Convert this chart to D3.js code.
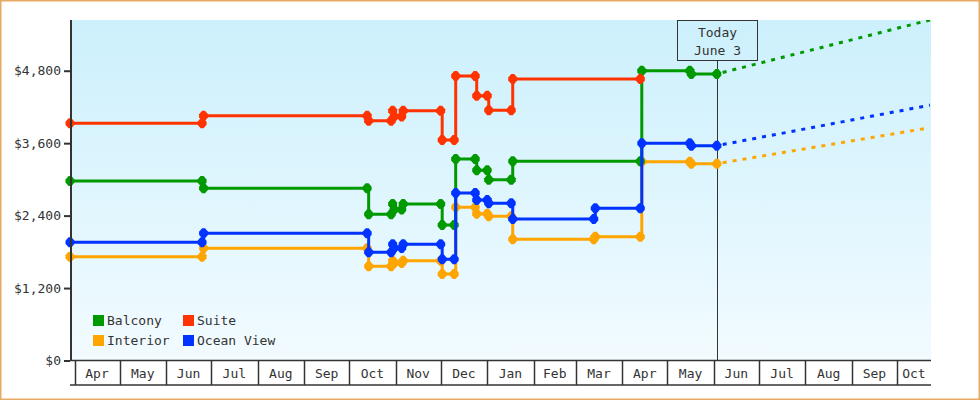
<!DOCTYPE html>
<html>
<head>
<meta charset="utf-8">
<script src="https://cdn.jsdelivr.net/npm/d3@7"></script>
<style>
  html, body { margin: 0; padding: 0; background: #fff; }
  svg { display: block; }
  text { font-family: "DejaVu Sans Mono", monospace; font-size: 13px; fill: #333; }
</style>
</head>
<body>
<svg id="chart" width="980" height="400"></svg>
<script>
// ---------- DATA ----------
const seriesNames = ["Balcony", "Suite", "Interior", "Ocean View"];
const seriesColors = ["#009900", "#ff3300", "#ffa500", "#0033ff"];

const balcony = [
  ["2014-03-29", 2973], ["2014-06-25", 2973], ["2014-06-26", 2852], ["2014-10-13", 2852],
  ["2014-10-14", 2422], ["2014-10-29", 2422], ["2014-10-30", 2592], ["2014-10-31", 2501],
  ["2014-11-05", 2501], ["2014-11-06", 2592], ["2014-12-01", 2592], ["2014-12-02", 2244],
  ["2014-12-10", 2244], ["2014-12-11", 3338], ["2014-12-24", 3338], ["2014-12-25", 3150],
  ["2015-01-01", 3150], ["2015-01-02", 2995], ["2015-01-17", 2995], ["2015-01-18", 3300],
  ["2015-04-13", 3300], ["2015-04-14", 4800], ["2015-05-16", 4800], ["2015-05-17", 4746],
  ["2015-06-03", 4746]
];
const suite = [
  ["2014-03-29", 3929], ["2014-06-25", 3929], ["2014-06-26", 4055], ["2014-10-13", 4055],
  ["2014-10-14", 3972], ["2014-10-29", 3972], ["2014-10-30", 4138], ["2014-10-31", 4042],
  ["2014-11-05", 4042], ["2014-11-06", 4138], ["2014-12-01", 4138], ["2014-12-02", 3652],
  ["2014-12-10", 3652], ["2014-12-11", 4712], ["2014-12-24", 4712], ["2014-12-25", 4386],
  ["2015-01-01", 4386], ["2015-01-02", 4144], ["2015-01-17", 4144], ["2015-01-18", 4663],
  ["2015-04-13", 4663]
];
const interior = [
  ["2014-03-29", 1719], ["2014-06-25", 1719], ["2014-06-26", 1858], ["2014-10-13", 1858],
  ["2014-10-14", 1560], ["2014-10-29", 1560], ["2014-10-30", 1653], ["2014-10-31", 1615],
  ["2014-11-05", 1615], ["2014-11-06", 1653], ["2014-12-01", 1653], ["2014-12-02", 1433],
  ["2014-12-10", 1433], ["2014-12-11", 2538], ["2014-12-24", 2538], ["2014-12-25", 2430],
  ["2015-01-01", 2430], ["2015-01-02", 2390], ["2015-01-17", 2390], ["2015-01-18", 2008],
  ["2015-03-13", 2008], ["2015-03-14", 2051], ["2015-04-13", 2051], ["2015-04-14", 3293],
  ["2015-05-16", 3293], ["2015-05-17", 3260], ["2015-06-03", 3260]
];
const oceanView = [
  ["2014-03-29", 1958], ["2014-06-25", 1958], ["2014-06-26", 2107], ["2014-10-13", 2107],
  ["2014-10-14", 1792], ["2014-10-29", 1792], ["2014-10-30", 1925], ["2014-10-31", 1863],
  ["2014-11-05", 1863], ["2014-11-06", 1925], ["2014-12-01", 1925], ["2014-12-02", 1676],
  ["2014-12-10", 1676], ["2014-12-11", 2775], ["2014-12-24", 2775], ["2014-12-25", 2659],
  ["2015-01-01", 2659], ["2015-01-02", 2604], ["2015-01-17", 2604], ["2015-01-18", 2344],
  ["2015-03-13", 2344], ["2015-03-14", 2521], ["2015-04-13", 2521], ["2015-04-14", 3598],
  ["2015-05-16", 3598], ["2015-05-17", 3558], ["2015-06-03", 3558]
];
// forecast (dashed) : from today to end of axis
const forecastBalcony  = [["2015-06-03", 4746], ["2015-10-23", 5640]];
const forecastInterior = [["2015-06-03", 3260], ["2015-10-23", 3856]];
const forecastOcean    = [["2015-06-03", 3558], ["2015-10-23", 4230]];

const todayDate = "2015-06-03";
const todayLabel = ["Today", "June 3"];
const yTicks = [0, 1200, 2400, 3600, 4800];
const monthLabels = ["Apr","May","Jun","Jul","Aug","Sep","Oct","Nov","Dec","Jan","Feb","Mar",
                     "Apr","May","Jun","Jul","Aug","Sep","Oct"];
const xDomain = ["2014-03-29", "2015-10-23T17:00:00Z"];
const yDomain = [0, 5640];

// ---------- LAYOUT ----------
const W = 980, H = 400;
const plot = { left: 70, right: 931, top: 20, bottom: 360.5 };
const axisBottom = 385;

const parse = s => new Date(s.length === 10 ? s + "T00:00:00Z" : s);
const x = d3.scaleUtc().domain(xDomain.map(parse)).range([plot.left, plot.right]);
const y = d3.scaleLinear().domain(yDomain).range([plot.bottom, plot.top]);

const svg = d3.select("#chart");
const defs = svg.append("defs");
const grad = defs.append("linearGradient").attr("id", "bg").attr("x1", 0).attr("y1", 0).attr("x2", 0).attr("y2", 1);
grad.append("stop").attr("offset", "0%").attr("stop-color", "#ccf0fc");
grad.append("stop").attr("offset", "100%").attr("stop-color", "#f2fbff");
defs.append("clipPath").attr("id", "clip").append("rect")
  .attr("x", plot.left - 6).attr("y", plot.top).attr("width", plot.right - plot.left + 6).attr("height", plot.bottom - plot.top + 6);

svg.append("rect").attr("x", 0).attr("y", 0).attr("width", W).attr("height", H).attr("fill", "#fff");
svg.append("rect").attr("x", 0.75).attr("y", 0.75).attr("width", W - 1.5).attr("height", H - 1.5)
  .attr("fill", "none").attr("stroke", "#e8a962").attr("stroke-width", 1.5);

// plot background
svg.append("rect").attr("x", plot.left + 1).attr("y", plot.top)
  .attr("width", plot.right - plot.left - 1).attr("height", plot.bottom - plot.top)
  .attr("fill", "url(#bg)");

// today line + box
const tx = Math.round(x(parse(todayDate))) + 0.5;
svg.append("line").attr("x1", tx).attr("x2", tx).attr("y1", 60.5).attr("y2", plot.bottom)
  .attr("stroke", "#333").attr("stroke-width", 1);
svg.append("rect").attr("x", tx - 40).attr("y", 20.5).attr("width", 80).attr("height", 40)
  .attr("fill", "none").attr("stroke", "#333").attr("stroke-width", 1);
svg.append("text").attr("x", tx).attr("y", 37).attr("text-anchor", "middle").text(todayLabel[0]);
svg.append("text").attr("x", tx).attr("y", 55).attr("text-anchor", "middle").text(todayLabel[1]);

// ---------- SERIES ----------
const g = svg.append("g").attr("clip-path", "url(#clip)");
const line = d3.line().x(d => x(parse(d[0]))).y(d => y(d[1])).curve(d3.curveStepAfter);
const dline = d3.line().x(d => x(parse(d[0]))).y(d => y(d[1]));
const marker = "M-1.5,-5L1.5,-5L4.5,-1.5L4.5,1.5L1.5,5L-1.5,5L-4.5,1.5L-4.5,-1.5Z";

const allSeries = [balcony, suite, interior, oceanView];
const forecasts = [forecastBalcony, null, forecastInterior, forecastOcean];
// draw order mimics overlaps in the original
[2, 0, 1, 3].forEach(i => {
  const data = allSeries[i], col = seriesColors[i];
  if (forecasts[i]) {
    g.append("path").datum(forecasts[i]).attr("d", dline).attr("fill", "none")
      .attr("stroke", col).attr("stroke-width", 3).attr("stroke-dasharray", "4,6")
      .attr("stroke-dashoffset", -6);
  }
  g.append("path").datum(data).attr("d", line).attr("fill", "none")
    .attr("stroke", col).attr("stroke-width", 3).attr("stroke-linejoin", "miter");
  g.selectAll(null).data(data).enter().append("path")
    .attr("d", marker)
    .attr("transform", d => `translate(${x(parse(d[0]))},${y(d[1])})`)
    .attr("fill", col);
});

// ---------- Y AXIS ----------
const yAxis = d3.axisLeft(y).tickValues(yTicks).tickSize(6).tickPadding(3)
  .tickFormat(d => "$" + d3.format(",")(d));
const ya = svg.append("g").attr("transform", `translate(${plot.left},0)`).call(yAxis);
ya.select(".domain").remove();
ya.selectAll(".tick line").attr("stroke", "#333").attr("stroke-width", 2);
ya.selectAll(".tick text").attr("font-family", "DejaVu Sans Mono, monospace").attr("font-size", 13).attr("fill", "#333");
svg.append("line").attr("x1", plot.left + 1).attr("x2", plot.left + 1).attr("y1", plot.top).attr("y2", plot.bottom)
  .attr("stroke", "#333").attr("stroke-width", 2);

// ---------- X AXIS (month boxes) ----------
const d0 = x.domain()[0], d1 = x.domain()[1];
const months = d3.utcMonth.range(d3.utcMonth.ceil(d0), d1);
const xa = svg.append("g");
xa.append("line").attr("x1", plot.left).attr("x2", plot.right).attr("y1", plot.bottom).attr("y2", plot.bottom)
  .attr("stroke", "#333").attr("stroke-width", 1.5);
xa.append("line").attr("x1", plot.left).attr("x2", plot.right).attr("y1", axisBottom).attr("y2", axisBottom)
  .attr("stroke", "#333").attr("stroke-width", 1.5);
months.forEach((m, i) => {
  const xm = Math.round(x(m)) + 0.5;
  xa.append("line").attr("x1", xm).attr("x2", xm).attr("y1", plot.bottom).attr("y2", axisBottom)
    .attr("stroke", "#333").attr("stroke-width", 1.5);
  const next = d3.utcMonth.offset(m, 1);
  const xe = Math.min(x(next), plot.right);
  xa.append("text").attr("x", (x(m) + xe) / 2).attr("y", 378).attr("text-anchor", "middle")
    .text(monthLabels[i]);
});

// ---------- LEGEND ----------
const legendPos = [[93, 315], [183, 315], [93, 335], [183, 335]];
seriesNames.forEach((n, i) => {
  const [lx, ly] = legendPos[i];
  svg.append("rect").attr("x", lx).attr("y", ly).attr("width", 11).attr("height", 11).attr("fill", seriesColors[i]);
  svg.append("text").attr("x", lx + 14).attr("y", ly + 10).text(n);
});
</script>
</body>
</html>
